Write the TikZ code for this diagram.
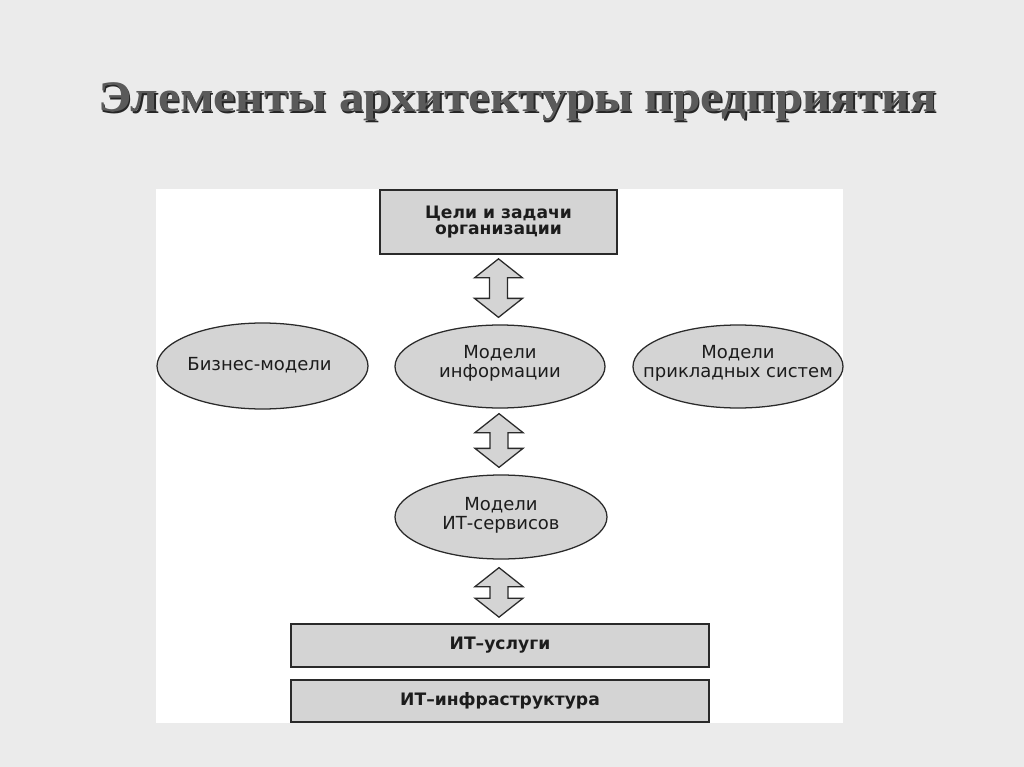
\documentclass[tikz,border=0pt]{standalone}
\usepackage{fontspec}
\setsansfont{DejaVu Sans}
\newfontfamily\titlefont{Liberation Serif}
\usetikzlibrary{shapes.geometric,calc}

\definecolor{paper}{HTML}{EBEBEB}
\definecolor{boxgray}{HTML}{D4D4D4}
\definecolor{edgegray}{HTML}{2A2A2A}
\definecolor{titlegray}{HTML}{5A5A5A}
\definecolor{inkgray}{HTML}{1C1C1C}

\tikzset{
  levelbox/.style={draw=edgegray, line width=1.2pt, fill=boxgray, inner sep=0pt,
    align=center, text=inkgray, font=\sffamily\bfseries\fontsize{12.2}{12}\selectfont},
  model/.style={ellipse, draw=edgegray, line width=0.9pt, fill=boxgray, inner sep=0pt},
  modeltext/.style={align=center, text=inkgray, font=\sffamily\fontsize{12.8}{13.5}\selectfont},
  twoway/.style={draw=edgegray, line width=0.9pt, fill=boxgray, line join=miter},
  heading/.style={anchor=base, font=\titlefont\bfseries\fontsize{31}{38}\selectfont}
}

% double block arrow from top tip (#1) down to bottom tip (#2)
\newcommand{\updown}[2]{%
  \draw[twoway] (#1) -- ++(24,19) -- ++(-15,0) -- ($(#2)+(9,-19)$) -- ++(15,0) -- (#2)
    -- ++(-24,-19) -- ++(15,0) -- ($(#1)+(-9,19)$) -- ++(-15,0) -- cycle;}

\begin{document}
\begin{tikzpicture}[x=0.025cm, y=-0.025cm]
\def\px{0.025cm} % one pixel of the slide

% Slide and panel
\useasboundingbox (0,0) rectangle (1024,767);
\fill[paper] (0,0) rectangle (1024,767);
\fill[white] (156,189) rectangle (843,723);

% Title with its shadow
\node[heading, text=black!85] (titleshadow) at (519,113.5) {\scalebox{1.13}[1]{Элементы архитектуры предприятия}};
\node[heading, text=titlegray] (title) at (517.5,112) {\scalebox{1.13}[1]{Элементы архитектуры предприятия}};

% Goals on top
\node[levelbox, minimum width=237*\px, minimum height=64*\px] (goals) at (498.5,222) {Цели и задачи\\организации};

% Row of models
\node[model, minimum width=211*\px, minimum height=86*\px] (biz) at (262.5,366) {};
\node[modeltext] (biztext) at ($(biz)+(-3,-1)$) {Бизнес-модели};
\node[model, minimum width=210*\px, minimum height=83*\px] (info) at (500,366.5) {};
\node[modeltext] (infotext) at ($(info)+(0,-3)$) {Модели\\информации};
\node[model, minimum width=210*\px, minimum height=83*\px] (apps) at (738,366.5) {};
\node[modeltext] (appstext) at ($(apps)+(0,-3)$) {Модели\\прикладных систем};

% Service models
\node[model, minimum width=212*\px, minimum height=84*\px] (svc) at (501,517) {};
\node[modeltext] (svctext) at ($(svc)+(0,-2)$) {Модели\\ИТ-сервисов};

% Bottom layers
\node[levelbox, minimum width=418*\px, minimum height=43*\px] (itserv) at (500,645.5) {ИТ–услуги};
\node[levelbox, minimum width=418*\px, minimum height=42*\px] (infra) at (500,701) {ИТ–инфраструктура};

% Arrows between levels
\coordinate (a1top) at ($(goals.south)+(0,4)$);
\coordinate (a1bot) at ($(goals.south |- info.north)+(0,-7)$);
\coordinate (a2top) at ($(info.south)+(-1,5)$);
\coordinate (a2bot) at ($(info.south |- svc.north)+(-1,-7)$);
\coordinate (a3top) at ($(svc.south)+(-2,8)$);
\coordinate (a3bot) at ($(svc.south |- itserv.north)+(-2,-6)$);
\updown{a1top}{a1bot}
\updown{a2top}{a2bot}
\updown{a3top}{a3bot}
\end{tikzpicture}
\end{document}
